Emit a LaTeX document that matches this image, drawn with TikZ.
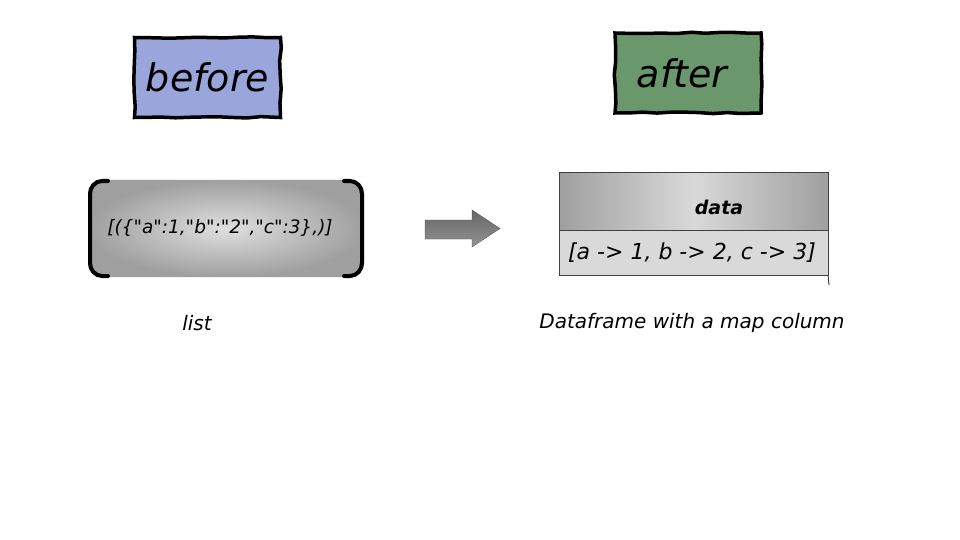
\documentclass[tikz,border=0pt]{standalone}
\usepackage{fontspec}
\setmainfont{DejaVu Sans}[Ligatures=TeXOff]
\usetikzlibrary{decorations.pathmorphing}
\definecolor{beforeblue}{HTML}{9AA6DB}
\definecolor{aftergreen}{HTML}{6B976C}
\tikzset{
  tagbox/.style={draw=black, line width=3.5pt, minimum width=146pt, minimum height=80pt,
    inner sep=0pt, font=\fontsize{38}{42}\selectfont\itshape,
    decorate, decoration={random steps, segment length=14pt, amplitude=0.9pt}},
  lbl/.style={font=\fontsize{20}{24}\selectfont\itshape, inner sep=0pt},
  tbl/.style={draw=black!75, line width=1pt},
}
\begin{document}
\begin{tikzpicture}[x=1pt,y=-1pt]
\useasboundingbox (0,0) rectangle (960,540);
% before / after
\node[tagbox, fill=beforeblue] (before) at (207.5,77.5) {before};
\node[tagbox, fill=aftergreen] (after) at (688,73) {\hspace*{-12pt}after};
% list box
\shade[inner color=gray!25, outer color=gray!75, rounded corners=14pt] (88,180) rectangle (364,277);
\draw[line width=4pt, line cap=round] (108,181) -- (102,181) to[out=180,in=90] (90,194) -- (90,263) to[out=-90,in=180] (102,276) -- (108,276);
\draw[line width=4pt, line cap=round] (344,181) -- (350,181) to[out=0,in=90] (362,194) -- (362,263) to[out=-90,in=0] (350,276) -- (344,276);
\node[lbl, font=\fontsize{18.5}{22}\selectfont\itshape] (listtext) at (220,228) {[(\{"a":1,"b":"2","c":3\},)]};
\node[lbl] (listlbl) at (197,323) {list};
% arrow
\shade[top color=gray!80!black, bottom color=gray!85, draw=gray!60!black, line width=0.3pt]
  (425,220) -- (472,220) -- (472,210) -- (500,228.5) -- (472,247) -- (472,239) -- (425,239) -- cycle;
% table
\shade[left color=gray!75, right color=gray!75, middle color=gray!30] (559,173) rectangle (828,230);
\fill[gray!30] (559,230) rectangle (828,275);
\draw[tbl] (559,173) rectangle (828,275);
\draw[tbl] (559,230) -- (828,230);
\draw[tbl] (828,275) -- (829,285);
\node[lbl, font=\fontsize{19}{22}\selectfont\bfseries\itshape] (hdr) at (719,207) {data};
\node[lbl, font=\fontsize{22}{26}\selectfont\itshape] (row) at (692,253) {[a -> 1, b -> 2, c -> 3]};
\node[lbl] (dflbl) at (692,323) {Dataframe with a map column};
\end{tikzpicture}
\end{document}
